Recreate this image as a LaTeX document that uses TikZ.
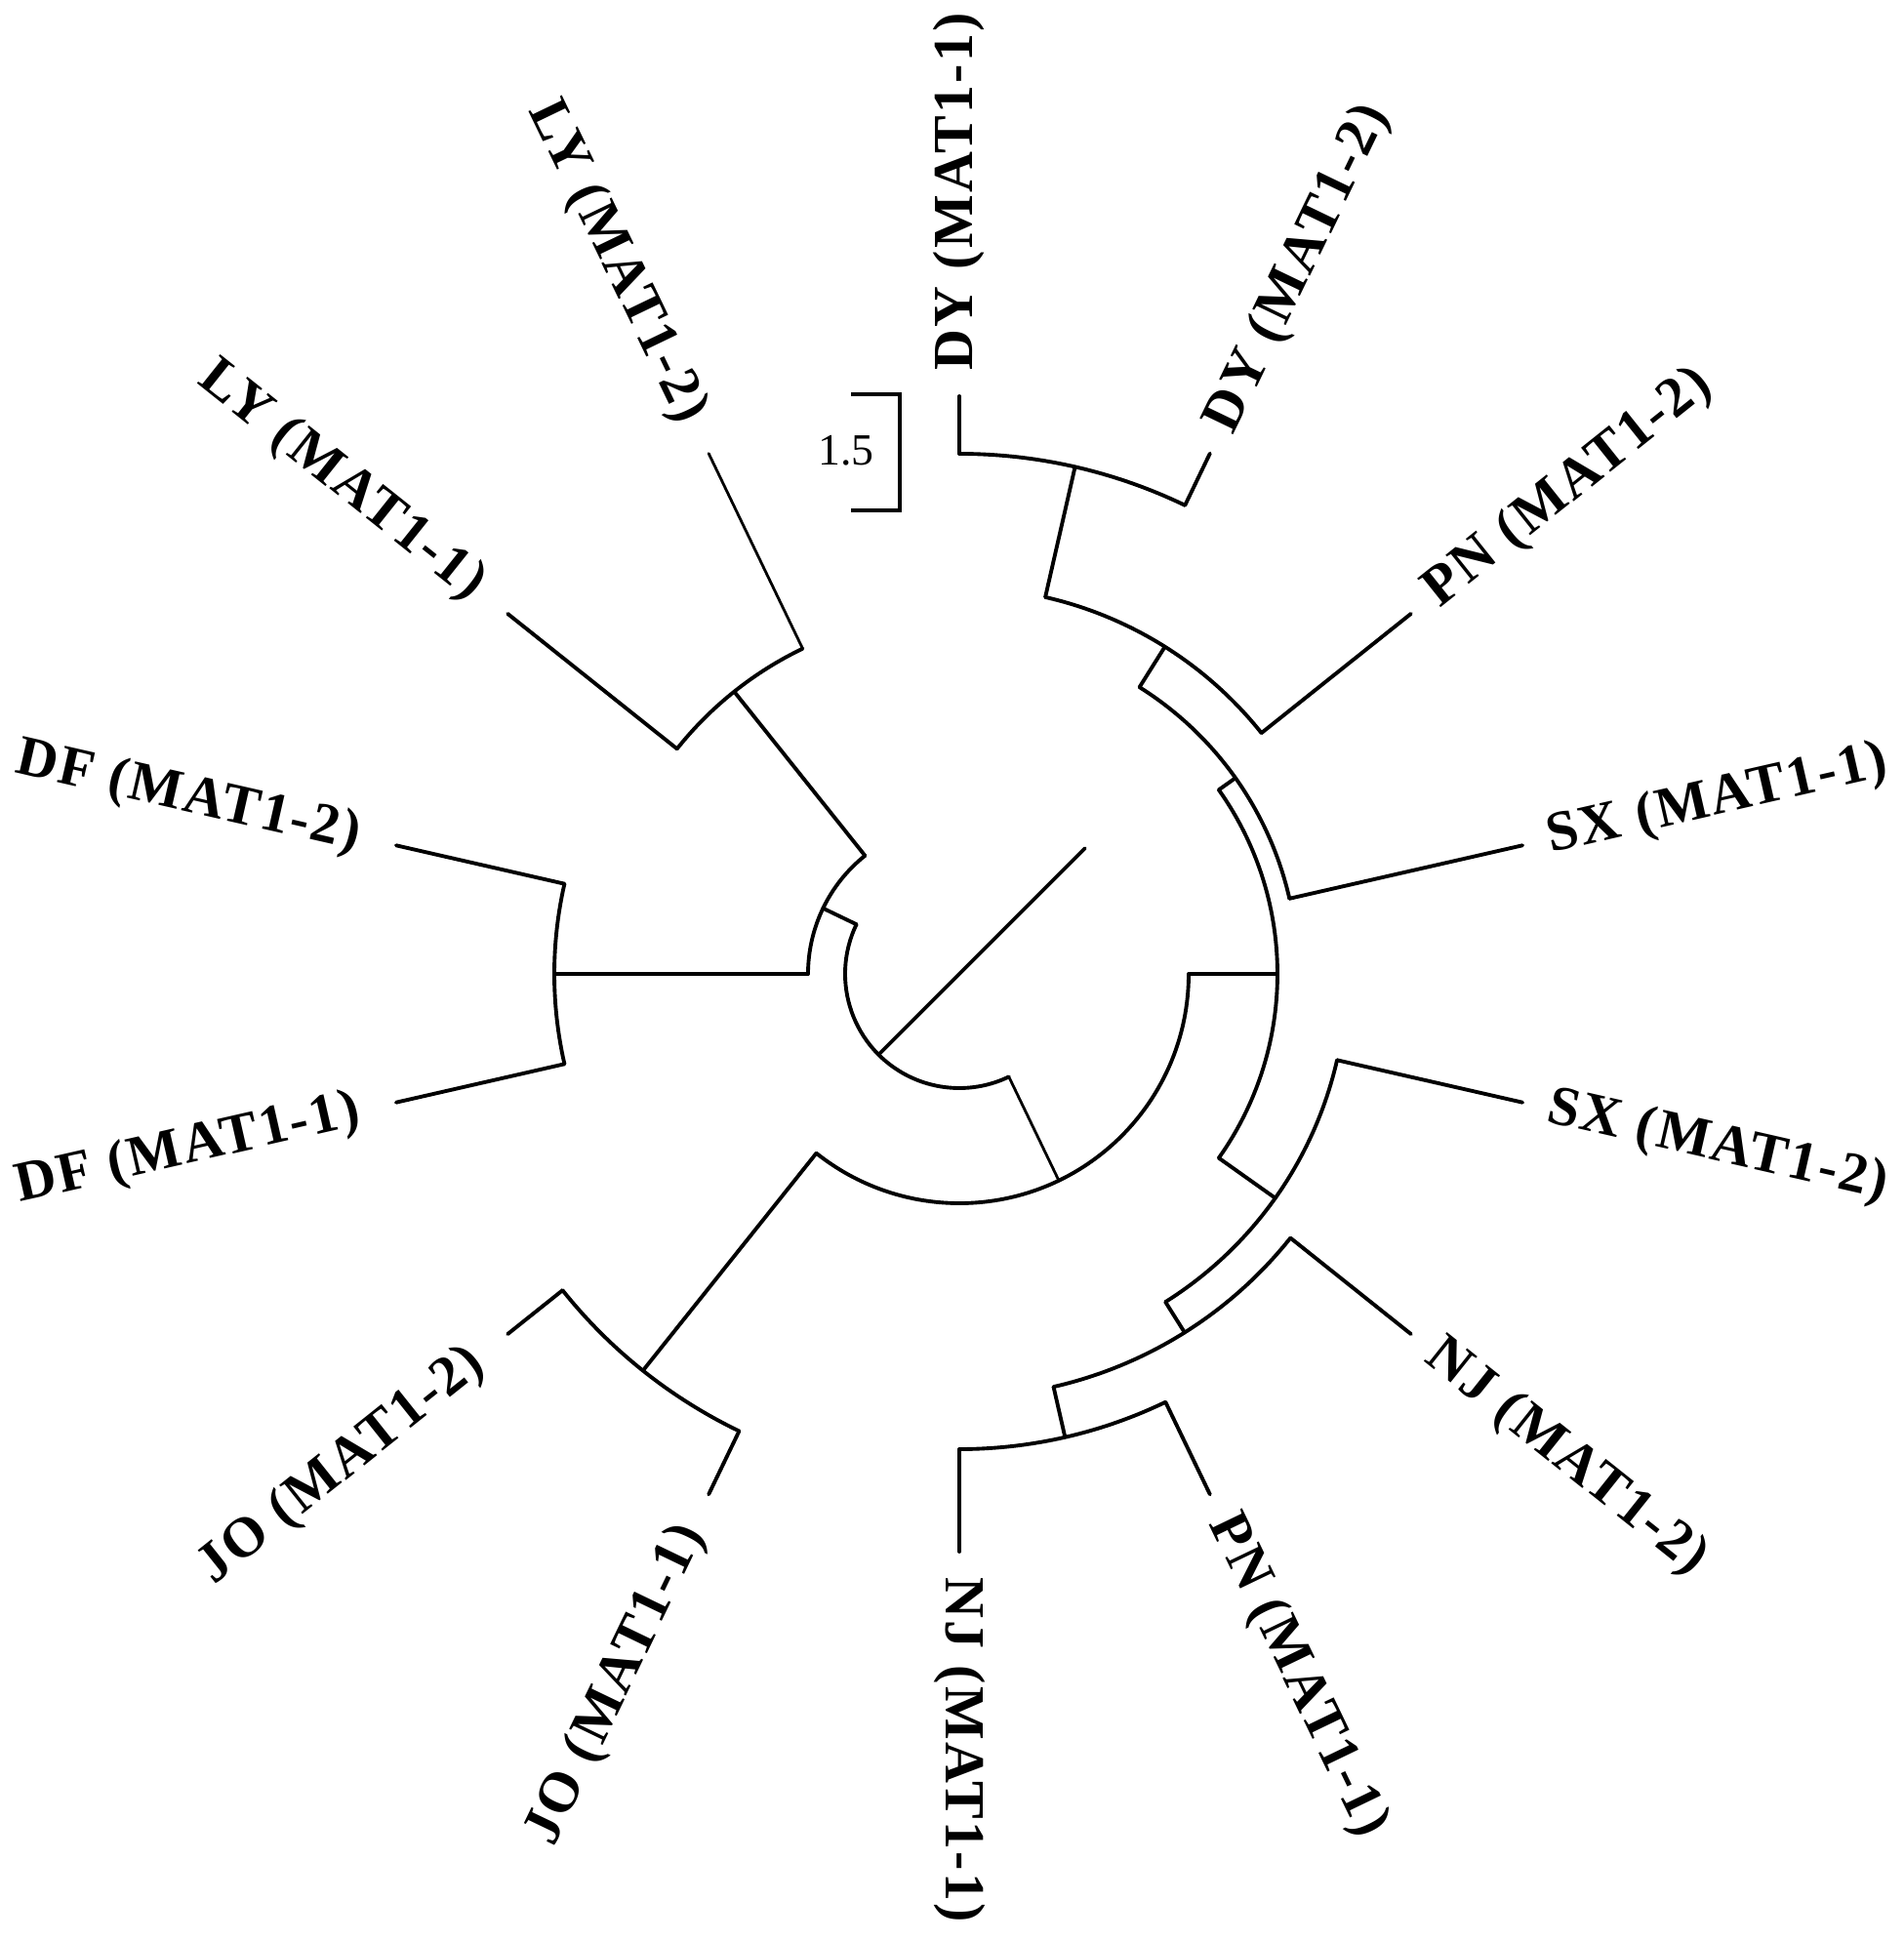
\documentclass[tikz,border=0pt]{standalone}
\usepackage{fontspec}
\setmainfont{Liberation Serif}
\newfontfamily\labfont[LetterSpace=4]{Liberation Serif}
\begin{document}
\begin{tikzpicture}[
  br/.style={line width=1.1pt, line cap=round, line join=round},
  thinbr/.style={line width=0.8pt, line cap=round},
  labR/.style={font=\labfont\bfseries\fontsize{16.5}{19}\selectfont, inner sep=0pt, anchor=west},
  labL/.style={font=\labfont\bfseries\fontsize{16.5}{19}\selectfont, inner sep=0pt, anchor=east},
  scalelab/.style={font=\fontsize{13}{15}\selectfont, inner sep=0pt}
]
\useasboundingbox (-9.83,-9.91) rectangle (9.67,9.98);
\newcommand\leafR[5][br]{\draw[#1] (#2:#3) -- (#2:5.92); \node[labR, rotate=#2] (#4) at (#2:6.18) {#5};}
\newcommand\leafL[5][br]{\draw[#1] (#2:#3) -- (#2:5.92); \node[labL, rotate=#2+180] (#4) at (#2:6.30) {#5};}
\newcommand\brarc[3]{\draw[br] (#2:#1) arc[start angle=#2, end angle=#3, radius=#1];}
\newcommand\brstem[4][br]{\draw[#1] (#2:#3) -- (#2:#4);}

% leaves
\leafR{90}{5.33}{dy1}{DY (MAT1-1)}
\leafR{64.286}{5.33}{dy2}{DY (MAT1-2)}
\leafR{38.571}{3.96}{pn2}{PN (MAT1-2)}
\leafR{12.857}{3.47}{sx1}{SX (MAT1-1)}
\leafR{-12.857}{3.97}{sx2}{SX (MAT1-2)}
\leafR{-38.571}{4.34}{nj2}{NJ (MAT1-2)}
\leafR{-64.286}{4.87}{pn1}{PN (MAT1-1)}
\leafR{-90}{4.87}{nj1}{NJ (MAT1-1)}
\leafL{-115.714}{5.20}{jo1}{JO (MAT1-1)}
\leafL{-141.429}{5.20}{jo2}{JO (MAT1-2)}
\leafL{-167.143}{4.15}{df1}{DF (MAT1-1)}
\leafL{167.143}{4.15}{df2}{DF (MAT1-2)}
\leafL{141.429}{3.70}{ly1}{LY (MAT1-1)}
\leafL[thinbr]{115.714}{3.70}{ly2}{LY (MAT1-2)}

% internal arcs and stems
\brarc{5.33}{90}{64.286}      \brstem{77.143}{3.96}{5.33}
\brarc{3.96}{77.143}{38.571}  \brstem{57.857}{3.47}{3.96}
\brarc{3.47}{57.857}{12.857}  \brstem{35.357}{3.26}{3.47}
\brarc{4.87}{-64.286}{-90}    \brstem{-77.143}{4.34}{4.87}
\brarc{4.34}{-38.571}{-77.143} \brstem{-57.857}{3.97}{4.34}
\brarc{3.97}{-12.857}{-57.857} \brstem{-35.357}{3.26}{3.97}
\brarc{3.26}{35.357}{-35.357}  \brstem{0}{2.35}{3.26}
\brarc{5.20}{-115.714}{-141.429} \brstem{-128.571}{2.35}{5.20}
\brarc{2.35}{0}{-128.571}      \brstem[thinbr]{-64.286}{1.17}{2.35}
\brarc{3.70}{115.714}{141.429} \brstem{128.571}{1.55}{3.70}
\brarc{4.15}{167.143}{192.857} \brstem{180}{1.55}{4.15}
\brarc{1.55}{128.571}{180}     \brstem{154.286}{1.17}{1.55}
\brarc{1.17}{154.286}{295.714}
% root
\coordinate (rootin) at (225:1.17);
\coordinate (rootout) at (45:1.82);
\draw[br] (rootin) -- (rootout);

% scale bar
\coordinate (sb1) at (-1.11,5.94);
\coordinate (sb2) at (-0.61,5.94);
\coordinate (sb3) at (-0.61,4.75);
\coordinate (sb4) at (-1.11,4.75);
\draw[br, line cap=butt, line join=miter] (sb1) -- (sb2) -- (sb3) -- (sb4);
\node[scalelab] (sbl) at (-1.16,5.36) {1.5};
\end{tikzpicture}
\end{document}
